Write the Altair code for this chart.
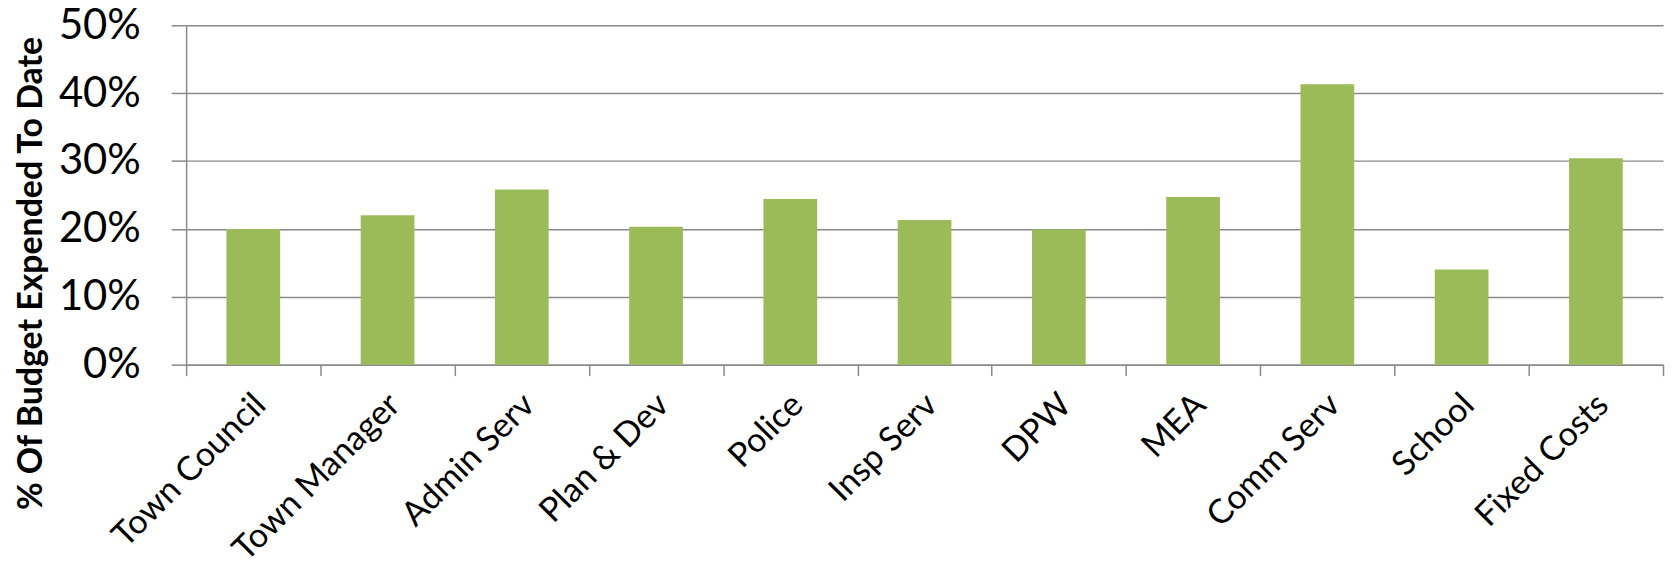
import altair as alt
import pandas as pd

categories = ["Town Council", "Town Manager", "Admin Serv", "Plan & Dev", "Police",
              "Insp Serv", "DPW", "MEA", "Comm Serv", "School", "Fixed Costs"]
values = [0.200, 0.220, 0.258, 0.203, 0.244, 0.213, 0.199, 0.247, 0.413, 0.140, 0.304]
y_ticks = [0.0, 0.1, 0.2, 0.3, 0.4, 0.5]

df = pd.DataFrame({"category": categories, "value": values})

GRAY = "#8a8a8a"
FONT = "Lato"

chart = alt.Chart(df).mark_bar(
    color="#9BBB59",
    width=alt.RelativeBandSize(0.4),
).encode(
    x=alt.X(
        "category:N",
        sort=categories,
        scale=alt.Scale(paddingInner=0, paddingOuter=0),
        axis=alt.Axis(
            title=None,
            labelAngle=-45,
            labelAlign="right",
            labelBaseline="middle",
            labelFont=FONT,
            labelFontSize=34,
            labelColor="#000000",
            labelLimit=0,
            labelPadding=24,
            labelOffset=7,
            tickBand="extent",
            ticks=True,
            tickSize=11,
            tickColor=GRAY,
            tickWidth=1.5,
            domain=True,
            domainColor=GRAY,
            domainWidth=1.5,
            grid=False,
        ),
    ),
    y=alt.Y(
        "value:Q",
        scale=alt.Scale(domain=[0, 0.5], nice=False, zero=True),
        axis=alt.Axis(
            title="% Of Budget Expended To Date",
            titleFont=FONT,
            titleFontSize=34,
            titleFontWeight="bold",
            titleColor="#000000",
            titleAngle=-90,
            titleX=-145,
            titleY=249,
            titleAlign="center",
            titleBaseline="alphabetic",
            titleLimit=0,
            values=y_ticks,
            format=".0%",
            labelFont=FONT,
            labelFontSize=42,
            labelColor="#000000",
            labelPadding=31,
            tickSize=15,
            tickColor=GRAY,
            tickWidth=1.5,
            domain=True,
            domainColor=GRAY,
            domainWidth=1.5,
            grid=True,
            gridColor=GRAY,
            gridWidth=1.5,
        ),
    ),
).properties(
    width=1484,
    height=341,
    autosize=alt.AutoSizeParams(type="none"),
    padding={"left": 179, "top": 16, "right": 4, "bottom": 207},
    background="white",
).configure_view(stroke=None)

chart.save("out.html", embed_options={"renderer": "svg", "actions": False})
